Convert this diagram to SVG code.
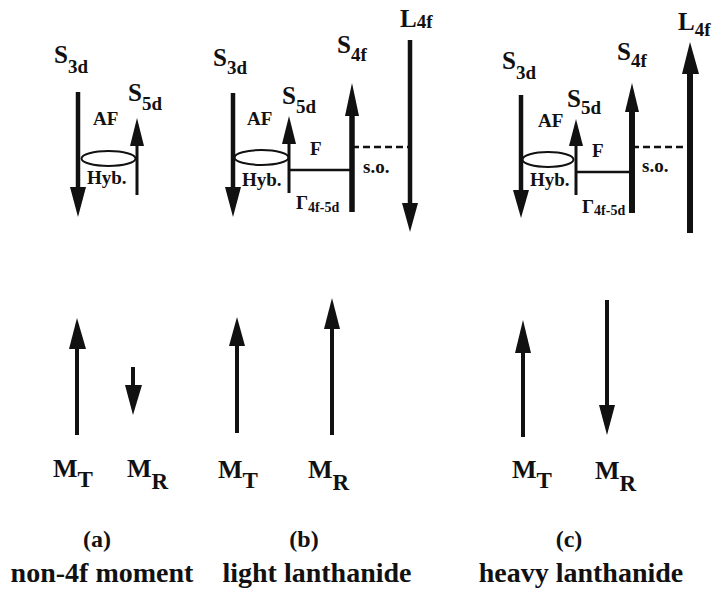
<svg xmlns="http://www.w3.org/2000/svg" width="715" height="596" viewBox="0 0 715 596" font-family="'Liberation Serif', serif">
<style>
.t{font-family:Liberation Serif,serif;font-weight:bold;fill:#111}
.big{font-size:25px}
.sub{font-size:19px}
.lab{font-size:19px}
.m{font-size:26px}
.cap{font-size:24px;text-anchor:middle}
.desc{font-size:28px;text-anchor:middle}
.shaft{stroke:#111;fill:none}
.head{fill:#111}
.link{stroke:#111;stroke-width:2.5;fill:none}
.dash{stroke:#111;stroke-width:2.5;stroke-dasharray:7 4;fill:none}
.hyb{stroke:#111;stroke-width:2;fill:none}
</style>
<rect width="715" height="596" fill="#fff"/>

<!-- Panel (a) -->
<g id="a-S3d">
  <line class="shaft" x1="78" y1="92" x2="78" y2="195" stroke-width="4.5"/>
  <polygon class="head" points="70,187 86,187 78,217"/>
  <text class="t big" x="54" y="63">S<tspan class="sub" dy="10">3d</tspan></text>
</g>
<g id="a-S5d">
  <line class="shaft" x1="137" y1="140" x2="137" y2="195" stroke-width="3"/>
  <polygon class="head" points="137,118 130,146 144,146"/>
  <text class="t big" x="128" y="101">S<tspan class="sub" dy="9">5d</tspan></text>
</g>

<!-- Panel (b) -->
<g id="b-S3d">
  <line class="shaft" x1="233" y1="93" x2="233" y2="195" stroke-width="4.5"/>
  <polygon class="head" points="225,187 241,187 233,217"/>
  <text class="t big" x="213" y="66">S<tspan class="sub" dy="8">3d</tspan></text>
</g>
<g id="b-S5d">
  <line class="shaft" x1="289" y1="138" x2="289" y2="193" stroke-width="3"/>
  <polygon class="head" points="289,116 282,144 296,144"/>
  <text class="t big" x="282" y="104">S<tspan class="sub" dy="9">5d</tspan></text>
</g>
<g id="b-S4f">
  <line class="shaft" x1="352" y1="105" x2="352" y2="212" stroke-width="5.5"/>
  <polygon class="head" points="352,83 345,116 359,116"/>
  <text class="t big" x="337" y="53">S<tspan class="sub" dy="8">4f</tspan></text>
</g>
<g id="b-L4f">
  <line class="shaft" x1="410" y1="40" x2="410" y2="210" stroke-width="4.5"/>
  <polygon class="head" points="402,203 418,203 410,232"/>
  <text class="t big" x="400" y="27">L<tspan class="sub" dy="1">4f</tspan></text>
</g>

<!-- Panel (c) -->
<g id="c-S3d">
  <line class="shaft" x1="521" y1="95" x2="521" y2="198" stroke-width="4.5"/>
  <polygon class="head" points="513,190 529,190 521,218"/>
  <text class="t big" x="502" y="69">S<tspan class="sub" dy="10">3d</tspan></text>
</g>
<g id="c-S5d">
  <line class="shaft" x1="576" y1="140" x2="576" y2="195" stroke-width="3"/>
  <polygon class="head" points="576,119 569,146 583,146"/>
  <text class="t big" x="567" y="107">S<tspan class="sub" dy="7">5d</tspan></text>
</g>
<g id="c-S4f">
  <line class="shaft" x1="632" y1="100" x2="632" y2="213" stroke-width="6"/>
  <polygon class="head" points="632,83 625,112 639,112"/>
  <text class="t big" x="617" y="60">S<tspan class="sub" dy="7">4f</tspan></text>
</g>
<g id="c-L4f">
  <line class="shaft" x1="690" y1="65" x2="690" y2="233" stroke-width="6"/>
  <polygon class="head" points="690,42 682,74 699,74"/>
  <text class="t big" x="678" y="30">L<tspan class="sub" dy="6">4f</tspan></text>
</g>

<!-- Connectors -->
<g id="connectors">
  <ellipse class="hyb" cx="108.5" cy="158.5" rx="27" ry="7.5"/>
  <text class="t lab" x="93" y="125">AF</text>
  <text class="t lab" x="87" y="184">Hyb.</text>

  <ellipse class="hyb" cx="261.5" cy="157.5" rx="27" ry="7.5"/>
  <text class="t lab" x="247" y="125">AF</text>
  <text class="t lab" x="242" y="186">Hyb.</text>
  <line class="link" x1="289" y1="170" x2="352" y2="170"/>
  <text class="t lab" x="310" y="155">F</text>
  <text class="t lab" x="296" y="209">Γ<tspan dy="3" font-size="14">4f-5d</tspan></text>
  <line class="dash" x1="352" y1="147" x2="410" y2="147"/>
  <text class="t lab" x="363" y="173">s.o.</text>

  <ellipse class="hyb" cx="548" cy="159.5" rx="25.5" ry="7.5"/>
  <text class="t lab" x="538" y="127">AF</text>
  <text class="t lab" x="530" y="186">Hyb.</text>
  <line class="link" x1="576" y1="172" x2="632" y2="172"/>
  <text class="t lab" x="592" y="157">F</text>
  <text class="t lab" x="582" y="213">Γ<tspan dy="2" font-size="14">4f-5d</tspan></text>
  <line class="dash" x1="632" y1="147" x2="690" y2="147"/>
  <text class="t lab" x="642" y="172">s.o.</text>
</g>

<!-- Resulting moments -->
<g id="a-MT">
  <line class="shaft" x1="77" y1="340" x2="77" y2="435" stroke-width="4"/>
  <polygon class="head" points="77,318 69,349 86,349"/>
  <text class="t m" x="53" y="477">M<tspan dy="10" font-size="23">T</tspan></text>
</g>
<g id="a-MR">
  <line class="shaft" x1="133" y1="367" x2="133" y2="392" stroke-width="4"/>
  <polygon class="head" points="125,385 142,385 133,415"/>
  <text class="t m" x="127" y="477">M<tspan dy="12" font-size="23">R</tspan></text>
</g>
<g id="b-MT">
  <line class="shaft" x1="237" y1="338" x2="237" y2="433" stroke-width="4"/>
  <polygon class="head" points="237,317 229,346 245,346"/>
  <text class="t m" x="218" y="478">M<tspan dy="10" font-size="23">T</tspan></text>
</g>
<g id="b-MR">
  <line class="shaft" x1="332" y1="320" x2="332" y2="435" stroke-width="4"/>
  <polygon class="head" points="332,298 324,329 340,329"/>
  <text class="t m" x="308" y="478">M<tspan dy="12" font-size="23">R</tspan></text>
</g>
<g id="c-MT">
  <line class="shaft" x1="523" y1="345" x2="523" y2="437" stroke-width="4"/>
  <polygon class="head" points="523,320 515,353 531,353"/>
  <text class="t m" x="512" y="478">M<tspan dy="10" font-size="23">T</tspan></text>
</g>
<g id="c-MR">
  <line class="shaft" x1="607" y1="300" x2="607" y2="410" stroke-width="4"/>
  <polygon class="head" points="599,405 615,405 607,435"/>
  <text class="t m" x="595" y="479">M<tspan dy="12" font-size="23">R</tspan></text>
</g>

<!-- Captions -->
<g id="captions">
  <text class="t cap" x="97" y="547">(a)</text>
  <text class="t cap" x="304" y="547">(b)</text>
  <text class="t cap" x="569" y="547">(c)</text>
  <text class="t desc" x="102" y="582">non-4f moment</text>
  <text class="t desc" x="317" y="582">light lanthanide</text>
  <text class="t desc" x="581" y="582">heavy lanthanide</text>
</g>
</svg>
